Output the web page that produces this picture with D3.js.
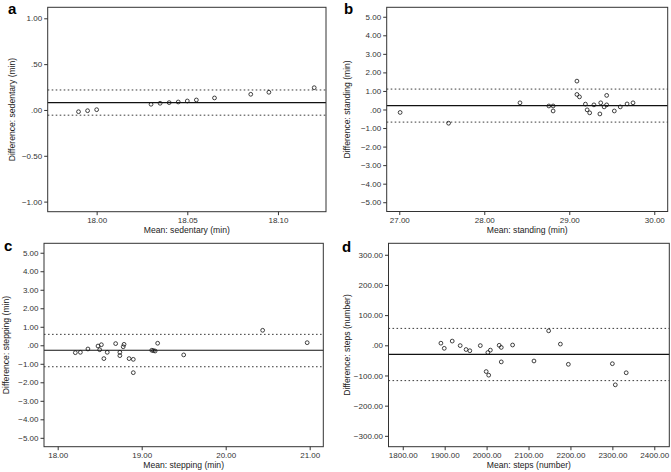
<!DOCTYPE html>
<html>
<head>
<meta charset="utf-8">
<script src="https://cdn.jsdelivr.net/npm/d3@7"></script>
<style>
  html, body { margin: 0; padding: 0; background: #fff; }
  svg { display: block; font-family: "Liberation Sans", Arial, sans-serif; }
</style>
</head>
<body>
<svg id="chart" width="671" height="472"></svg>
<script>
// ---------- DATA ----------
// Panel a: sedentary
const sedMean = [17.99, 17.995, 18.00, 18.03, 18.035, 18.04, 18.045, 18.05, 18.055, 18.065, 18.085, 18.095, 18.12];
const sedDiff = [-0.019, -0.008, 0.003, 0.062, 0.073, 0.080, 0.087, 0.098, 0.109, 0.131, 0.171, 0.193, 0.243];
const sedLines = [0.080, 0.218, -0.057]; // mean, upper LoA, lower LoA
const sedXTicks = [18.00, 18.05, 18.10];
const sedYTicks = [-1.0, -0.5, 0, 0.5, 1.0];

// Panel b: standing
const stdMean = [27.01, 27.58, 28.42, 28.76, 28.81, 28.81, 29.09, 29.09, 29.12, 29.19, 29.21, 29.24, 29.29, 29.36, 29.37, 29.41, 29.44, 29.44, 29.53, 29.60, 29.68, 29.75];
const stdDiff = [-0.16, -0.74, 0.36, 0.19, 0.19, -0.08, 1.53, 0.81, 0.68, 0.29, -0.02, -0.18, 0.25, -0.24, 0.36, 0.14, 0.76, 0.25, -0.08, 0.14, 0.30, 0.36];
const stdLines = [0.21, 1.10, -0.68];
const stdXTicks = [27, 28, 29, 30];
const stdYTicks = [-5, -4, -3, -2, -1, 0, 1, 2, 3, 4, 5];

// Panel c: stepping
const stpMean = [18.21, 18.27, 18.36, 18.48, 18.52, 18.50, 18.55, 18.59, 18.69, 18.74, 18.74, 18.78, 18.79, 18.85, 18.90, 18.90, 19.12, 19.14, 19.16, 19.19, 19.50, 20.44, 20.97];
const stpDiff = [-0.40, -0.38, -0.20, -0.04, 0.03, -0.24, -0.72, -0.38, 0.09, -0.38, -0.56, -0.08, 0.05, -0.72, -0.76, -1.48, -0.27, -0.29, -0.31, 0.11, -0.52, 0.81, 0.14];
const stpLines = [-0.27, 0.59, -1.16];
const stpXTicks = [18, 19, 20, 21];
const stpYTicks = [-5, -4, -3, -2, -1, 0, 1, 2, 3, 4, 5];

// Panel d: steps
const stepsMean = [1891, 1899, 1918, 1937, 1951, 1960, 1985, 1999, 2003, 2005, 2009, 2030, 2035, 2035, 2062, 2113, 2148, 2176, 2195, 2300, 2307, 2333];
const stepsDiff = [7, -10, 14, -1, -14, -18, -1, -87, -24, -99, -16, 0, -7, -55, 1, -52, 48, 4, -63, -61, -131, -91];
const stepsLines = [-30, 56, -117];
const stepsXTicks = [1800, 1900, 2000, 2100, 2200, 2300, 2400];
const stepsYTicks = [-300, -200, -100, 0, 100, 200, 300];

// ---------- LAYOUT ----------
const panels = [
  { letter: "a", mean: sedMean, diff: sedDiff, lines: sedLines, xt: sedXTicks, yt: sedYTicks,
    xDom: [17.973, 18.1265], yDom: [-1.11, 1.12],
    box: [47.7, 7.3, 326, 211.7], lx: 8, ly: 14, yTitleX: 14.5,
    xTitle: "Mean: sedentary (min)", yTitle: "Difference: sedentary (min)" },
  { letter: "b", mean: stdMean, diff: stdDiff, lines: stdLines, xt: stdXTicks, yt: stdYTicks,
    xDom: [26.852, 30.158], yDom: [-5.50, 5.51],
    box: [386.7, 7.3, 667.7, 211.5], lx: 344, ly: 14, yTitleX: 349.5,
    xTitle: "Mean: standing (min)", yTitle: "Difference: standing (min)" },
  { letter: "c", mean: stpMean, diff: stpDiff, lines: stpLines, xt: stpXTicks, yt: stpYTicks,
    xDom: [17.837, 21.162], yDom: [-5.48, 5.51],
    box: [44, 243.3, 323.3, 446.7], lx: 4, ly: 251, yTitleX: 8.5,
    xTitle: "Mean: stepping (min)", yTitle: "Difference: stepping (min)" },
  { letter: "d", mean: stepsMean, diff: stepsDiff, lines: stepsLines, xt: stepsXTicks, yt: stepsYTicks,
    xDom: [1766, 2435.8], yDom: [-336, 338],
    box: [388.5, 243.3, 669.3, 446.7], lx: 342, ly: 251.5, yTitleX: 349.5,
    xTitle: "Mean: steps (number)", yTitle: "Difference: steps (number)" }
];

const fmt = v => {
  let s = d3.format(".2f")(v);
  s = s.replace(/^0\./, ".").replace(/^-0\./, "-.");
  return s;
};

const svg = d3.select("#chart");

panels.forEach(p => {
  const [x0, y0, x1, y1] = p.box;
  const x = d3.scaleLinear().domain(p.xDom).range([x0, x1]);
  const y = d3.scaleLinear().domain(p.yDom).range([y1, y0]);
  const g = svg.append("g");

  // reference lines
  const [m, up, lo] = p.lines;
  g.append("line").attr("x1", x0).attr("x2", x1).attr("y1", y(up)).attr("y2", y(up))
    .attr("stroke", "#3a3a3a").attr("stroke-width", 1).attr("stroke-dasharray", "1.6,2.4");
  g.append("line").attr("x1", x0).attr("x2", x1).attr("y1", y(lo)).attr("y2", y(lo))
    .attr("stroke", "#3a3a3a").attr("stroke-width", 1).attr("stroke-dasharray", "1.6,2.4");
  g.append("line").attr("x1", x0).attr("x2", x1).attr("y1", y(m)).attr("y2", y(m))
    .attr("stroke", "#111").attr("stroke-width", 1.1);

  // points
  g.selectAll("circle.pt").data(p.mean.map((v, i) => [v, p.diff[i]]))
    .enter().append("circle").attr("class", "pt")
    .attr("cx", d => x(d[0])).attr("cy", d => y(d[1]))
    .attr("r", 1.9).attr("fill", "none").attr("stroke", "#111").attr("stroke-width", 0.8);

  // frame
  g.append("rect").attr("x", x0).attr("y", y0).attr("width", x1 - x0).attr("height", y1 - y0)
    .attr("fill", "none").attr("stroke", "#333").attr("stroke-width", 1);

  // axes
  const ya = g.append("g").attr("transform", `translate(${x0},0)`)
    .call(d3.axisLeft(y).tickValues(p.yt).tickFormat(fmt).tickSize(3.5).tickPadding(2));
  const xa = g.append("g").attr("transform", `translate(0,${y1})`)
    .call(d3.axisBottom(x).tickValues(p.xt).tickFormat(fmt).tickSize(3.5).tickPadding(2.5));
  [ya, xa].forEach(a => {
    a.select(".domain").remove();
    a.selectAll(".tick line").attr("stroke", "#333");
    a.selectAll(".tick text").attr("fill", "#333").style("font-size", "8px")
      .style("font-family", '"Liberation Sans", Arial, sans-serif');
  });

  // titles
  g.append("text").attr("x", (x0 + x1) / 2).attr("y", y1 + 21.5)
    .attr("text-anchor", "middle").attr("fill", "#222").style("font-size", "8.6px").text(p.xTitle);
  g.append("text").attr("transform", `translate(${p.yTitleX},${(y0 + y1) / 2}) rotate(-90)`)
    .attr("text-anchor", "middle").attr("fill", "#222").style("font-size", "8.6px").text(p.yTitle);

  // panel letter
  g.append("text").attr("x", p.lx).attr("y", p.ly)
    .attr("fill", "#000").style("font-size", "15px").style("font-weight", "bold").text(p.letter);
});
</script>
</body>
</html>
